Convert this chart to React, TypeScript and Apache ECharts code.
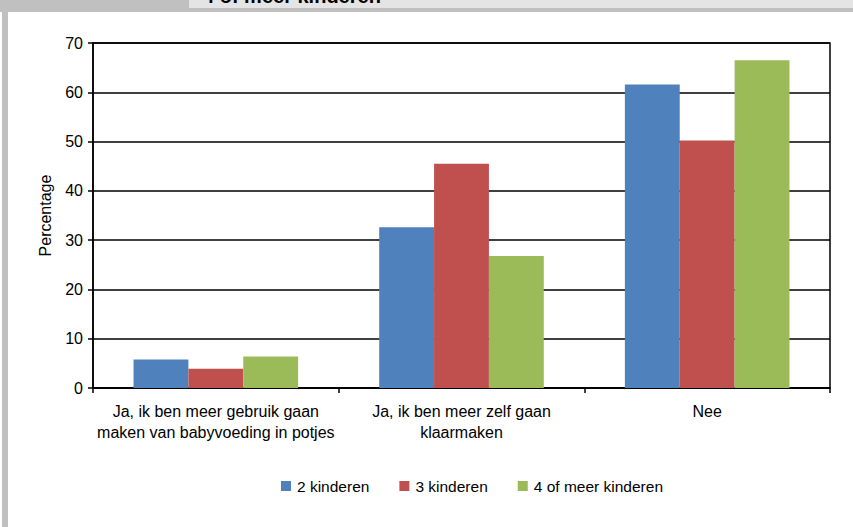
import React, { useEffect, useRef } from "react";
import * as echarts from "echarts";

// Answer categories (x axis)
const categories: string[] = [
  "Ja, ik ben meer gebruik gaan\nmaken van babyvoeding in potjes",
  "Ja, ik ben meer zelf gaan\nklaarmaken",
  "Nee",
];

// Percentages per household size
const tweeKinderen: number[] = [5.8, 32.6, 61.6];
const drieKinderen: number[] = [3.9, 45.5, 50.2];
const vierOfMeer: number[] = [6.4, 26.8, 66.5];

const seriesNames: string[] = ["2 kinderen", "3 kinderen", "4 of meer kinderen"];
const seriesColors: string[] = ["#4f81bd", "#c0504d", "#9bbb59"];

// Y-axis scale
const yMin = 0;
const yMax = 70;
const yStep = 10;

const FONT = "'Liberation Sans', Arial, sans-serif";

export default function App() {
  const ref = useRef<HTMLDivElement>(null);

  useEffect(() => {
    if (!ref.current) return;
    const chart = echarts.init(ref.current, undefined, { renderer: "svg" });
    const values = [tweeKinderen, drieKinderen, vierOfMeer];

    chart.setOption({
      animation: false,
      backgroundColor: "#ffffff",
      textStyle: { fontFamily: FONT },
      graphic: [
        // frame strips
        { type: "rect", shape: { x: 0, y: 0, width: 853, height: 12 }, style: { fill: "#c0c0c0" }, silent: true },
        { type: "rect", shape: { x: 2, y: 0, width: 6, height: 527 }, style: { fill: "#c0c0c0" }, silent: true },
        { type: "rect", shape: { x: 189, y: 0, width: 664, height: 8 }, style: { fill: "#e4e4e4" }, silent: true },
        {
          type: "text",
          x: 203,
          y: 6,
          silent: true,
          style: {
            text: "4 of meer kinderen",
            font: `bold 20px ${FONT}`,
            fill: "#000000",
            verticalAlign: "bottom",
            align: "left",
          },
        },
      ],
      grid: {
        left: 93,
        right: 23,
        top: 43,
        bottom: 139,
        show: true,
        borderColor: "#000000",
        borderWidth: 1.5,
        backgroundColor: "transparent",
      },
      legend: {
        left: 276,
        top: 473,
        itemWidth: 10,
        itemHeight: 10,
        itemGap: 30,
        icon: "rect",
        textStyle: { fontSize: 15.5, color: "#000000", fontFamily: FONT, padding: [0, 0, 0, 1] },
        data: seriesNames,
      },
      xAxis: {
        type: "category",
        data: categories,
        axisLine: { show: true, lineStyle: { color: "#000000", width: 1.5 } },
        axisTick: { show: true, length: 5, lineStyle: { color: "#000000", width: 1.5 } },
        axisLabel: {
          interval: 0,
          fontSize: 16,
          lineHeight: 21,
          margin: 13,
          color: "#000000",
          fontFamily: FONT,
        },
        splitLine: { show: false },
      },
      yAxis: {
        type: "value",
        min: yMin,
        max: yMax,
        interval: yStep,
        name: "Percentage",
        nameLocation: "middle",
        nameGap: 40,
        nameTextStyle: { fontSize: 16, color: "#000000", fontFamily: FONT },
        axisLine: { show: true, lineStyle: { color: "#000000", width: 1.5 } },
        axisTick: { show: true, length: 5, lineStyle: { color: "#000000", width: 1.5 } },
        axisLabel: { fontSize: 16, margin: 10, color: "#000000", fontFamily: FONT },
        splitLine: { show: true, lineStyle: { color: "#000000", width: 1.5 } },
      },
      series: seriesNames.map((name, i) => ({
        name,
        type: "bar",
        data: values[i],
        barGap: "0%",
        barCategoryGap: "33%",
        itemStyle: { color: seriesColors[i] },
      })),
    });

    return () => chart.dispose();
  }, []);

  return (
    <div
      ref={ref}
      style={{ position: "fixed", left: 0, top: 0, width: 853, height: 527 }}
    />
  );
}
